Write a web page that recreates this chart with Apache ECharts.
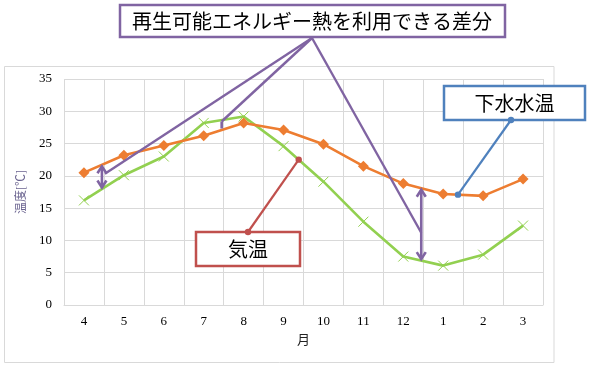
<!DOCTYPE html>
<html><head><meta charset="utf-8">
<script src="https://cdn.jsdelivr.net/npm/echarts@6/dist/echarts.min.js"></script>
<style>html,body{margin:0;padding:0;background:#fff}#c{width:590px;height:366px}</style>
</head><body><div id="c"></div>
<script>
// ---- data ----
const months = ['4','5','6','7','8','9','10','11','12','1','2','3'];
const sewageTemp = [20.5, 23.2, 24.7, 26.2, 28.2, 27.1, 24.9, 21.5, 18.8, 17.2, 16.9, 19.5];
const airTemp    = [16.2, 20.1, 23.0, 28.2, 29.2, 24.6, 19.1, 12.9, 7.5, 6.1, 7.8, 12.3];
const yMin = 0, yMax = 35, yStep = 5;
const titleText = '再生可能エネルギー熱を利用できる差分';
const sewageLabel = '下水水温';
const airLabel = '気温';
const yName = '温度[℃]';
const xName = '月';
// positions (category index, fractional) of the difference arrows
const arrowAt = [0.45, 3.45, 8.45];
// positions where the callout leaders touch the lines
const airLeaderAt = 5.38;
const sewageLeaderAt = 9.37;

const serif = '"Liberation Serif", "Noto Sans CJK JP", serif';
const jp = '"Noto Sans CJK JP", sans-serif';
const PURPLE = '#8064A2', RED = '#C0504D', BLUE = '#4F81BD';

const chart = echarts.init(document.getElementById('c'), null, {renderer: 'canvas'});
chart.setOption({
  animation: false,
  grid: {left: 64, right: 47, top: 79, bottom: 61},
  xAxis: {
    type: 'category', data: months, boundaryGap: true,
    name: xName, nameLocation: 'middle', nameGap: 29,
    nameTextStyle: {fontFamily: serif, fontSize: 13, color: '#222'},
    axisLine: {lineStyle: {color: '#D9D9D9', width: 1}},
    axisTick: {show: false},
    axisLabel: {margin: 10, color: '#000', fontFamily: serif, fontSize: 13},
    splitLine: {show: true, lineStyle: {color: '#D9D9D9', width: 1}}
  },
  yAxis: {
    type: 'value', min: yMin, max: yMax, interval: yStep,
    name: yName, nameLocation: 'middle', nameRotate: 90, nameGap: 31,
    nameTextStyle: {fontFamily: serif, fontSize: 12, color: '#6B6490'},
    axisLine: {show: false}, axisTick: {show: false},
    axisLabel: {margin: 12, color: '#000', fontFamily: serif, fontSize: 13},
    splitLine: {show: true, lineStyle: {color: '#D9D9D9', width: 1}}
  },
  series: [
    {
      name: sewageLabel, type: 'line', data: sewageTemp,
      lineStyle: {color: '#ED7D31', width: 2.6},
      itemStyle: {color: '#ED7D31'},
      symbol: 'diamond', symbolSize: 11, z: 3
    },
    {
      name: airLabel, type: 'line', data: airTemp,
      lineStyle: {color: '#92D050', width: 2.6},
      itemStyle: {color: '#92D050', borderColor: '#92D050', borderWidth: 1},
      symbol: 'path://M0,0 L10,10 M10,0 L0,10', symbolSize: 10, z: 2
    }
  ]
});

const x0 = chart.convertToPixel({xAxisIndex: 0}, 0);
const x1 = chart.convertToPixel({xAxisIndex: 0}, 1);
const step = x1 - x0;
const xAt = f => x0 + f * step;
const yAt = v => chart.convertToPixel({yAxisIndex: 0}, v);
const interp = (arr, f) => { const i = Math.floor(f), t = f - i; return arr[i] + (arr[Math.min(i + 1, arr.length - 1)] - arr[i]) * t; };

const g = [];
// chart border
g.push({type: 'rect', shape: {x: 4.5, y: 66.5, width: 549.5, height: 296}, style: {fill: 'none', stroke: '#D9D9D9', lineWidth: 1}, z: 0, silent: true});

// title callout box
const apex = [312, 38];
g.push({type: 'rect', shape: {x: 120, y: 5, width: 385, height: 32}, style: {fill: '#fff', stroke: PURPLE, lineWidth: 2.5}, z: 20});
g.push({type: 'text', z: 21, style: {text: titleText, x: 312, y: 21.5, font: '20px ' + jp, fill: '#000', textAlign: 'center', textVerticalAlign: 'middle', align: 'center', verticalAlign: 'middle'}});

// difference arrows + leaders
arrowAt.forEach((f, k) => {
  const ax = xAt(f);
  const ya = yAt(interp(sewageTemp, f)), yb = yAt(interp(airTemp, f));
  const top = Math.min(ya, yb) + 1.5, bot = Math.max(ya, yb) - 1.5;
  g.push({type: 'line', shape: {x1: ax, y1: top, x2: ax, y2: bot}, style: {stroke: PURPLE, lineWidth: 2.6}, z: 15});
  if (bot - top > 15) {
    g.push({type: 'polyline', shape: {points: [[ax - 4.5, top + 7], [ax, top], [ax + 4.5, top + 7]]}, style: {stroke: PURPLE, lineWidth: 2.6, fill: 'none'}, z: 15});
    g.push({type: 'polyline', shape: {points: [[ax - 4.5, bot - 7], [ax, bot], [ax + 4.5, bot - 7]]}, style: {stroke: PURPLE, lineWidth: 2.6, fill: 'none'}, z: 15});
  }
  let ex, ey;
  if (k === 0) { ex = ax + 3; ey = top + (bot - top) * 0.35; }
  else if (k === 1) { ex = ax; ey = top; }
  else { ex = ax; ey = top + (bot - top) * 0.62; }
  g.push({type: 'line', shape: {x1: apex[0], y1: apex[1], x2: ex, y2: ey}, style: {stroke: PURPLE, lineWidth: 2.4}, z: 14});
});

// air temperature callout
const airPt = [xAt(airLeaderAt), yAt(interp(airTemp, airLeaderAt))];
const airBox = {x: 196, y: 232, width: 104, height: 34};
const airAnchor = [248, 232];
g.push({type: 'line', shape: {x1: airAnchor[0], y1: airAnchor[1], x2: airPt[0], y2: airPt[1]}, style: {stroke: RED, lineWidth: 2.2}, z: 16});
g.push({type: 'rect', shape: airBox, style: {fill: '#fff', stroke: RED, lineWidth: 2.5}, z: 17});
g.push({type: 'circle', shape: {cx: airAnchor[0], cy: airAnchor[1], r: 3.2}, style: {fill: RED}, z: 18});
g.push({type: 'circle', shape: {cx: airPt[0], cy: airPt[1], r: 3.2}, style: {fill: RED}, z: 18});
g.push({type: 'text', z: 18, style: {text: airLabel, x: 248, y: 249.5, font: '20px ' + jp, fill: '#000', textAlign: 'center', textVerticalAlign: 'middle', align: 'center', verticalAlign: 'middle'}});

// sewage temperature callout
const sewPt = [xAt(sewageLeaderAt), yAt(interp(sewageTemp, sewageLeaderAt))];
const sewBox = {x: 444, y: 86, width: 141, height: 34};
const sewAnchor = [511, 120];
g.push({type: 'line', shape: {x1: sewAnchor[0], y1: sewAnchor[1], x2: sewPt[0], y2: sewPt[1]}, style: {stroke: BLUE, lineWidth: 2.2}, z: 16});
g.push({type: 'rect', shape: sewBox, style: {fill: '#fff', stroke: BLUE, lineWidth: 2.5}, z: 17});
g.push({type: 'circle', shape: {cx: sewAnchor[0], cy: sewAnchor[1], r: 3.2}, style: {fill: BLUE}, z: 18});
g.push({type: 'circle', shape: {cx: sewPt[0], cy: sewPt[1], r: 3.2}, style: {fill: BLUE}, z: 18});
g.push({type: 'text', z: 18, style: {text: sewageLabel, x: 514.5, y: 103, font: '20px ' + jp, fill: '#000', textAlign: 'center', textVerticalAlign: 'middle', align: 'center', verticalAlign: 'middle'}});

chart.setOption({graphic: g});
</script>
</body></html>
